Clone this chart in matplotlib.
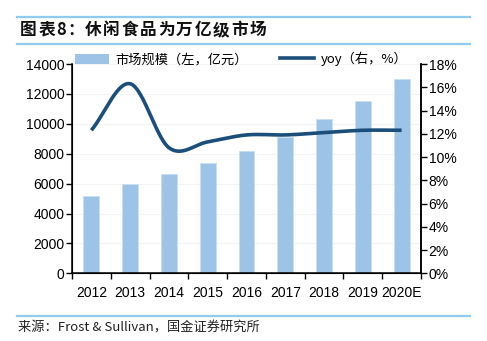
import numpy as np
import matplotlib
matplotlib.use("Agg")
import matplotlib.pyplot as plt
from matplotlib.lines import Line2D

# Data
years = ["2012", "2013", "2014", "2015", "2016", "2017", "2018", "2019", "2020E"]
market_size = [5200, 6000, 6640, 7350, 8200, 9130, 10300, 11540, 12980]   # 亿元
yoy = [12.3, 16.3, 10.8, 11.3, 11.9, 11.9, 12.1, 12.3, 12.3]              # %
left_ticks = [0, 2000, 4000, 6000, 8000, 10000, 12000, 14000]
right_ticks = [0, 2, 4, 6, 8, 10, 12, 14, 16, 18]

BAR_COLOR = "#9DC3E6"
LINE_COLOR = "#1C4E7C"
RULE_COLOR = "#8FCBF0"
LATIN = ["Liberation Sans", "Noto Sans CJK SC"]
CJK = ["Noto Sans CJK SC", "Liberation Sans"]

W, H = 487, 341
fig = plt.figure(figsize=(W / 100, H / 100), dpi=100)


def fx(px):
    return px / W


def fy(py):
    return 1 - py / H


def catmull_rom(xs, ys, n=30):
    """Smooth curve through the given points (uniform Catmull-Rom)."""
    xs = np.asarray(xs, float)
    ys = np.asarray(ys, float)
    px = np.concatenate([[2 * xs[0] - xs[1]], xs, [2 * xs[-1] - xs[-2]]])
    py = np.concatenate([[2 * ys[0] - ys[1]], ys, [2 * ys[-1] - ys[-2]]])
    out_x, out_y = [], []
    t = np.linspace(0, 1, n, endpoint=False)
    for i in range(1, len(px) - 2):
        for arr, out in ((px, out_x), (py, out_y)):
            p0, p1, p2, p3 = arr[i - 1], arr[i], arr[i + 1], arr[i + 2]
            out.extend(0.5 * ((2 * p1) + (-p0 + p2) * t
                              + (2 * p0 - 5 * p1 + 4 * p2 - p3) * t ** 2
                              + (-p0 + 3 * p1 - 3 * p2 + p3) * t ** 3))
    out_x.append(xs[-1])
    out_y.append(ys[-1])
    return np.array(out_x), np.array(out_y)


# Main axes
ax = fig.add_axes([fx(72), fy(273.3), fx(421 - 72), fy(64) - fy(273.3)])
x = np.arange(len(years))
ax.bar(x, market_size, width=0.41, color=BAR_COLOR, edgecolor="#C9DFF2",
       linewidth=0.6, zorder=2)
ax.set_xlim(-0.5, len(years) - 0.5)
ax.set_ylim(0, 14000)
ax.set_yticks(left_ticks)
ax.set_yticklabels([str(v) for v in left_ticks], fontfamily=LATIN, fontsize=10)
ax.grid(axis="y", color="#F4F4F4", linewidth=0.8, zorder=0)
ax.set_axisbelow(True)

# x ticks on the category boundaries, labels at the centres
ax.set_xticks(np.arange(-0.5, len(years), 1.0))
ax.set_xticklabels([])
ax.set_xticks(x, minor=True)
ax.set_xticklabels(years, minor=True, fontfamily=LATIN, fontsize=10)
ax.tick_params(axis="x", which="major", direction="out", length=4, width=1)
ax.tick_params(axis="x", which="minor", length=0, pad=9.5)
ax.tick_params(axis="y", direction="out", length=4, width=1, pad=1.5)
ax.spines["top"].set_visible(False)
for s in ("left", "bottom", "right"):
    ax.spines[s].set_linewidth(1.1)

# Right axis with yoy growth
ax2 = ax.twinx()
ax2.set_ylim(0, 18)
ax2.set_yticks(right_ticks)
ax2.set_yticklabels([f"{v}%" for v in right_ticks], fontfamily=LATIN, fontsize=10)
ax2.tick_params(axis="y", direction="out", length=4, width=1, pad=1.5)
ax2.spines["top"].set_visible(False)
ax2.spines["right"].set_linewidth(1.1)
sx, sy = catmull_rom(x, yoy)
ax2.plot(sx, sy, color=LINE_COLOR, linewidth=2.6, solid_capstyle="butt", zorder=3)

# Legend
handles = [
    plt.Rectangle((0, 0), 1, 1, facecolor=BAR_COLOR, edgecolor="none"),
    Line2D([], [], color=LINE_COLOR, linewidth=2.6),
]
labels = ["市场规模（左，亿元）", "yoy（右，%）"]
fig.legend(handles, labels, loc="center", ncol=2, frameon=False,
           bbox_to_anchor=(fx(241), fy(59)), prop={"family": CJK, "size": 9.5},
           handlelength=2.6, handleheight=0.8, handletextpad=0.5,
           columnspacing=2.4, borderaxespad=0)

# Header / footer rules and texts
for yy in (16.5, 43.5, 315.5):
    fig.add_artist(Line2D([fx(17), fx(470)], [fy(yy), fy(yy)],
                          color=RULE_COLOR, linewidth=1.6))

title_chars = list("图表8：休闲食品为万亿级市场")
cx = 20.0
for ch in title_chars:
    fig.text(fx(cx), fy(30), ch, fontfamily=CJK, fontsize=12, fontweight="bold",
             ha="left", va="center", color="#111111")
    cx += 11.0 if ch == "8" else (17.0 if ch == "：" else 18.3)

fig.text(fx(18), fy(328), "来源：Frost & Sullivan，国金证券研究所",
         fontfamily=CJK, fontsize=9.5, ha="left", va="center", color="#222222")

fig.savefig("out.png", dpi=100)
